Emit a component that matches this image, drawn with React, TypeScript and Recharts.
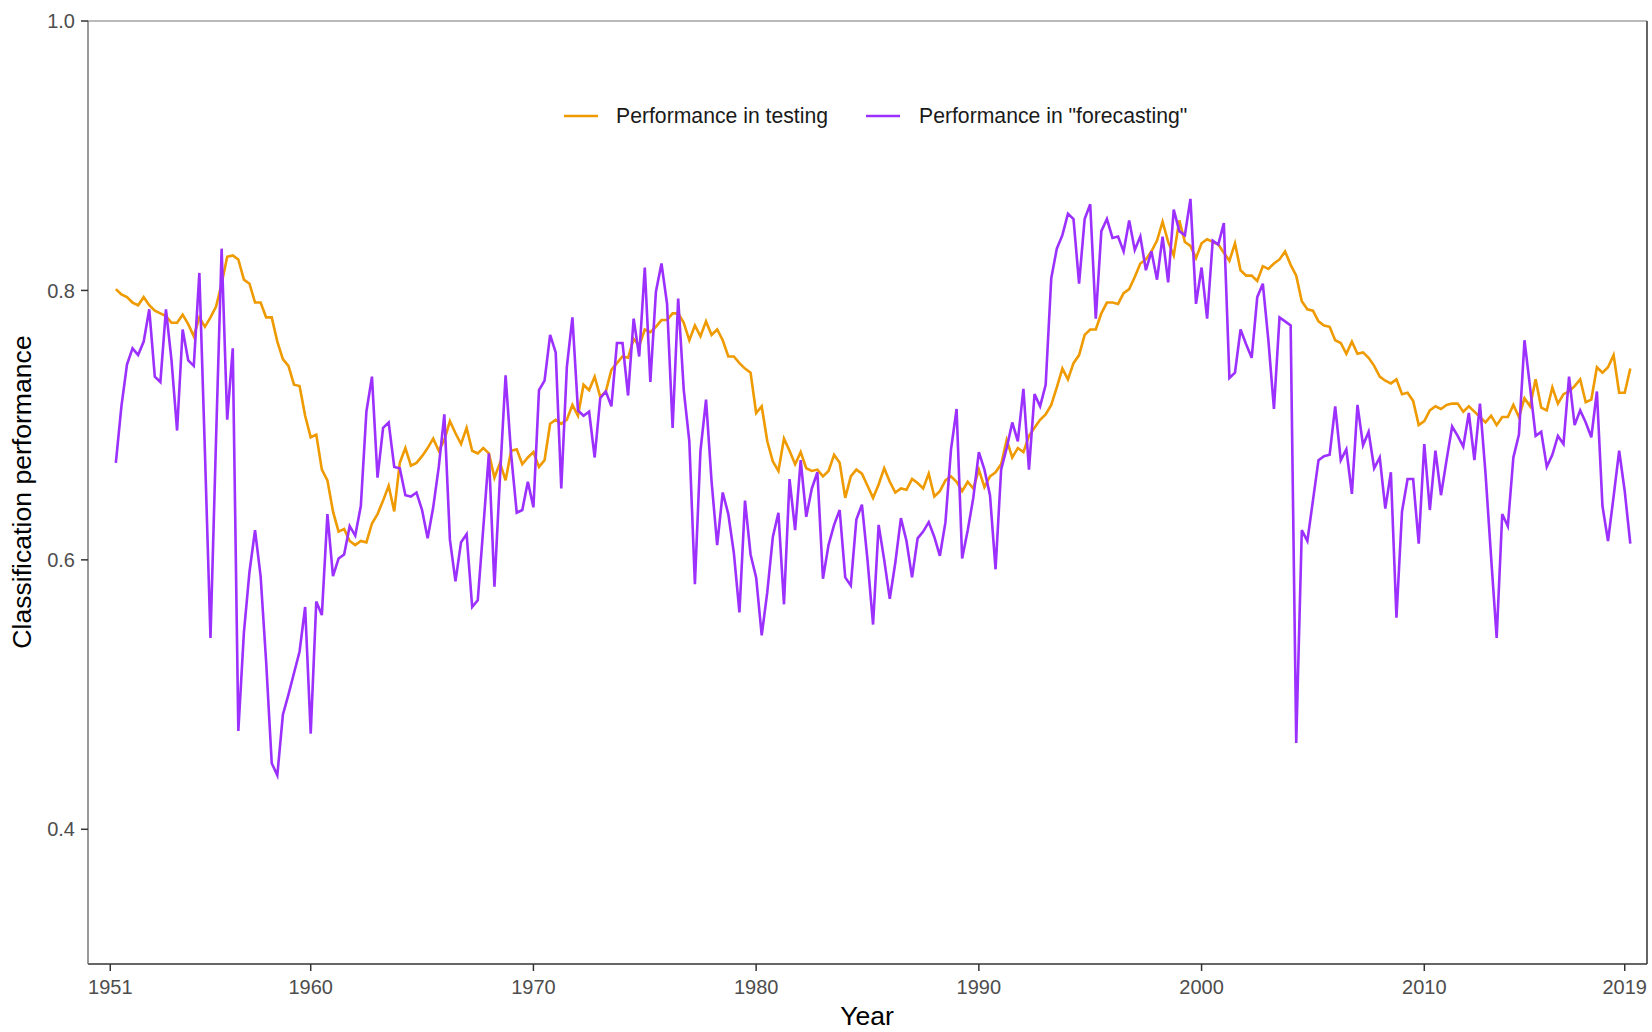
import React from 'react';
import { LineChart, Line, XAxis, YAxis, ReferenceLine, Legend } from 'recharts';

// quarterly series, first quarter is 1951.25
const startYear = 1951.25;

const testing = [
  0.801, 0.797, 0.795, 0.791, 0.789, 0.795, 0.789, 0.785, 0.783, 0.781,
  0.776, 0.776, 0.782, 0.775, 0.766, 0.780, 0.773, 0.780, 0.788, 0.805,
  0.825, 0.826, 0.823, 0.808, 0.805, 0.791, 0.791, 0.780, 0.780, 0.762,
  0.749, 0.744, 0.730, 0.729, 0.707, 0.691, 0.693, 0.667, 0.659, 0.636,
  0.621, 0.623, 0.614, 0.611, 0.614, 0.613, 0.627, 0.634, 0.644, 0.655,
  0.636, 0.672, 0.683, 0.670, 0.672, 0.677, 0.683, 0.690, 0.681, 0.689,
  0.703, 0.694, 0.686, 0.698, 0.681, 0.679, 0.683, 0.679, 0.661, 0.672,
  0.659, 0.681, 0.682, 0.671, 0.676, 0.680, 0.669, 0.674, 0.701, 0.704,
  0.701, 0.704, 0.715, 0.707, 0.730, 0.726, 0.736, 0.721, 0.725, 0.741,
  0.746, 0.751, 0.750, 0.764, 0.759, 0.771, 0.769, 0.773, 0.778, 0.778,
  0.783, 0.783, 0.776, 0.763, 0.774, 0.766, 0.777, 0.767, 0.771, 0.763,
  0.751, 0.751, 0.746, 0.742, 0.739, 0.709, 0.714, 0.688, 0.673, 0.666,
  0.690, 0.681, 0.671, 0.680, 0.668, 0.666, 0.667, 0.662, 0.666, 0.678,
  0.672, 0.646, 0.662, 0.667, 0.664, 0.655, 0.646, 0.656, 0.668, 0.658,
  0.650, 0.653, 0.652, 0.660, 0.657, 0.653, 0.664, 0.647, 0.651, 0.659,
  0.662, 0.658, 0.651, 0.658, 0.653, 0.667, 0.654, 0.662, 0.665, 0.671,
  0.689, 0.676, 0.683, 0.680, 0.692, 0.698, 0.704, 0.708, 0.715, 0.728,
  0.742, 0.734, 0.746, 0.752, 0.767, 0.771, 0.771, 0.783, 0.791, 0.791,
  0.790, 0.798, 0.801, 0.810, 0.820, 0.823, 0.829, 0.837, 0.851, 0.836,
  0.826, 0.852, 0.836, 0.833, 0.824, 0.835, 0.838, 0.836, 0.834, 0.828,
  0.822, 0.835, 0.815, 0.811, 0.811, 0.807, 0.818, 0.816, 0.820, 0.823,
  0.829, 0.819, 0.811, 0.792, 0.786, 0.785, 0.777, 0.774, 0.773, 0.763,
  0.761, 0.753, 0.762, 0.753, 0.754, 0.750, 0.744, 0.736, 0.733, 0.731,
  0.734, 0.723, 0.724, 0.718, 0.700, 0.703, 0.711, 0.714, 0.712, 0.715,
  0.716, 0.716, 0.710, 0.714, 0.710, 0.706, 0.702, 0.707, 0.700, 0.706,
  0.706, 0.715, 0.706, 0.720, 0.714, 0.734, 0.713, 0.711, 0.728, 0.716,
  0.723, 0.725, 0.729, 0.734, 0.717, 0.719, 0.743, 0.739, 0.743, 0.752,
  0.724, 0.724, 0.742,
];

const forecasting = [
  0.672, 0.714, 0.745, 0.757, 0.752, 0.762, 0.786, 0.736, 0.732, 0.786,
  0.748, 0.696, 0.771, 0.748, 0.744, 0.813, 0.680, 0.542, 0.690, 0.831,
  0.704, 0.757, 0.473, 0.546, 0.591, 0.622, 0.588, 0.524, 0.449, 0.440,
  0.485, 0.500, 0.516, 0.532, 0.565, 0.471, 0.569, 0.559, 0.634, 0.588,
  0.601, 0.604, 0.625, 0.618, 0.640, 0.710, 0.736, 0.661, 0.698, 0.702,
  0.669, 0.668, 0.648, 0.647, 0.650, 0.637, 0.616, 0.639, 0.669, 0.708,
  0.615, 0.584, 0.613, 0.619, 0.565, 0.570, 0.624, 0.679, 0.580, 0.662,
  0.737, 0.678, 0.635, 0.637, 0.658, 0.639, 0.726, 0.733, 0.767, 0.754,
  0.653, 0.743, 0.780, 0.711, 0.707, 0.710, 0.676, 0.720, 0.725, 0.714,
  0.761, 0.761, 0.722, 0.779, 0.751, 0.817, 0.732, 0.799, 0.820, 0.790,
  0.698, 0.794, 0.726, 0.688, 0.582, 0.681, 0.719, 0.658, 0.611, 0.650,
  0.634, 0.605, 0.561, 0.644, 0.604, 0.587, 0.544, 0.576, 0.617, 0.635,
  0.567, 0.660, 0.622, 0.674, 0.632, 0.653, 0.665, 0.586, 0.611, 0.626,
  0.637, 0.587, 0.581, 0.630, 0.641, 0.600, 0.552, 0.626, 0.600, 0.571,
  0.598, 0.631, 0.614, 0.587, 0.616, 0.621, 0.628, 0.617, 0.603, 0.628,
  0.682, 0.712, 0.601, 0.622, 0.646, 0.680, 0.667, 0.648, 0.593, 0.667,
  0.683, 0.702, 0.688, 0.727, 0.667, 0.723, 0.714, 0.730, 0.809, 0.831,
  0.841, 0.857, 0.853, 0.805, 0.853, 0.864, 0.779, 0.844, 0.853, 0.839,
  0.840, 0.829, 0.852, 0.830, 0.840, 0.815, 0.829, 0.808, 0.840, 0.806,
  0.860, 0.844, 0.841, 0.868, 0.790, 0.817, 0.779, 0.837, 0.834, 0.850,
  0.735, 0.739, 0.771, 0.760, 0.750, 0.795, 0.805, 0.763, 0.712, 0.780,
  0.777, 0.774, 0.464, 0.622, 0.614, 0.644, 0.674, 0.677, 0.678, 0.714,
  0.674, 0.682, 0.649, 0.715, 0.685, 0.695, 0.668, 0.676, 0.638, 0.665,
  0.557, 0.636, 0.660, 0.660, 0.612, 0.686, 0.637, 0.681, 0.648, 0.674,
  0.699, 0.692, 0.684, 0.709, 0.674, 0.716, 0.664, 0.602, 0.542, 0.634,
  0.625, 0.676, 0.693, 0.763, 0.728, 0.692, 0.695, 0.669, 0.678, 0.692,
  0.686, 0.736, 0.700, 0.711, 0.702, 0.691, 0.725, 0.640, 0.614, 0.647,
  0.681, 0.651, 0.612,
];

const xTicks = [1951, 1960, 1970, 1980, 1990, 2000, 2010, 2019];
const yTicks = [0.4, 0.6, 0.8, 1.0];

const data = testing.map((v, i) => ({
  t: startYear + i * 0.25,
  testing: v,
  forecasting: forecasting[i],
}));

const ORANGE = '#EE9A00';
const PURPLE = '#9B30FF';
const FONT = '"Liberation Sans", Arial, sans-serif';

const tickStyle = { fill: '#4D4D4D', fontSize: 20, fontFamily: FONT };

const YTitle = () => (
  <text
    x={31}
    y={492}
    transform="rotate(-90 31 492)"
    textAnchor="middle"
    fontSize={26.6}
    fontFamily={FONT}
    fill="#000"
  >
    Classification performance
  </text>
);

const XTitle = () => (
  <text x={867} y={1025} textAnchor="middle" fontSize={26.6} fontFamily={FONT} fill="#000">
    Year
  </text>
);

const LegendBox = () => (
  <div style={{ position: 'relative', height: 26, fontFamily: FONT, fontSize: 21.2, color: '#1A1A1A' }}>
    <svg width={34} height={26} style={{ position: 'absolute', left: 0, top: 0 }}>
      <line x1={0} x2={34} y1={13} y2={13} stroke={ORANGE} strokeWidth={2.6} />
    </svg>
    <span style={{ position: 'absolute', left: 52, top: 0, lineHeight: '26px', whiteSpace: 'nowrap' }}>
      Performance in testing
    </span>
    <svg width={34} height={26} style={{ position: 'absolute', left: 302, top: 0 }}>
      <line x1={0} x2={34} y1={13} y2={13} stroke={PURPLE} strokeWidth={2.6} />
    </svg>
    <span style={{ position: 'absolute', left: 355, top: 0, lineHeight: '26px', whiteSpace: 'nowrap' }}>
      Performance in "forecasting"
    </span>
  </div>
);

export default function App() {
  return (
    <div style={{ width: 1652, height: 1032, background: '#fff' }}>
      <style>{'body { margin: 0; }'}</style>
      <LineChart width={1652} height={1032} data={data} margin={{ top: 21, right: 5, bottom: 0, left: 0 }}>
        <XAxis
          dataKey="t"
          type="number"
          domain={[1950, 2020]}
          ticks={xTicks}
          height={68}
          tick={tickStyle}
          tickSize={7}
          tickMargin={9}
          axisLine={{ stroke: '#333', strokeWidth: 1.5 }}
          tickLine={{ stroke: '#333', strokeWidth: 1.5 }}
          label={<XTitle />}
        />
        <YAxis
          type="number"
          domain={[0.3, 1]}
          ticks={yTicks}
          width={88}
          tick={tickStyle}
          tickSize={7}
          tickMargin={6}
          tickFormatter={(v: number) => v.toFixed(1)}
          axisLine={{ stroke: '#777', strokeWidth: 1.5 }}
          tickLine={{ stroke: '#333', strokeWidth: 1.5 }}
          label={<YTitle />}
        />
        <ReferenceLine y={1} stroke="#777" strokeWidth={1.2} />
        <ReferenceLine x={2020} stroke="#333" strokeWidth={1.5} />
        <Legend
          layout="horizontal"
          verticalAlign="middle"
          align="center"
          wrapperStyle={{ top: 103, left: 564, width: 720, height: 26 }}
          content={<LegendBox />}
        />
        <Line
          type="linear"
          dataKey="testing"
          name="Performance in testing"
          stroke={ORANGE}
          strokeWidth={2.6}
          dot={false}
          isAnimationActive={false}
        />
        <Line
          type="linear"
          dataKey="forecasting"
          name='Performance in "forecasting"'
          stroke={PURPLE}
          strokeWidth={2.6}
          dot={false}
          isAnimationActive={false}
        />
      </LineChart>
    </div>
  );
}
